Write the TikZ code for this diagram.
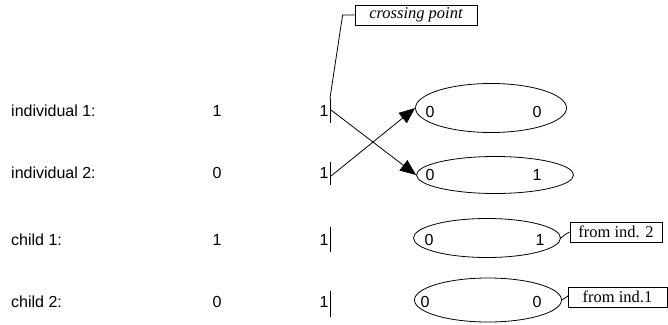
\documentclass[tikz,border=0pt]{standalone}
\usepackage{fontspec}
\setmainfont{Liberation Sans}
\newfontfamily\tms{Liberation Serif}
\usetikzlibrary{shapes.geometric,arrows.meta}
\begin{document}
\begin{tikzpicture}[x=1pt,y=-1pt,
  lbl/.style={anchor=west,inner sep=0,font=\fontsize{16}{18}\selectfont},
  dig/.style={inner sep=0,font=\fontsize{16}{18}\selectfont},
  oval/.style={draw,ellipse,inner sep=0,line width=0.8pt},
  note/.style={draw,inner sep=0,line width=0.8pt,font=\tms\fontsize{16.5}{18}\selectfont},
  bar/.style={line width=1pt},
  conn/.style={line width=0.8pt},
  arr/.style={conn,-{Triangle[length=16pt,width=13pt]}}]
\useasboundingbox (0,0) rectangle (668,324);
% row labels
\node[lbl] (l1) at (11,111) {individual 1:};
\node[lbl] (l2) at (11,173) {individual 2:};
\node[lbl] (l3) at (11,240) {child 1:};
\node[lbl] (l4) at (11,302) {child 2:};
% first column
\node[dig] (a1) at (217,111) {1};
\node[dig] (a2) at (217,173) {0};
\node[dig] (a3) at (217,240) {1};
\node[dig] (a4) at (217,302) {0};
% second column
\node[dig] (b1) at (324,111) {1};
\node[dig] (b2) at (324,173) {1};
\node[dig] (b3) at (324,240) {1};
\node[dig] (b4) at (324,302) {1};
% bars
\coordinate (t1) at (330,98);  \coordinate (u1) at (330,123);
\coordinate (t2) at (330,162); \coordinate (u2) at (330,185);
\coordinate (t3) at (330,227); \coordinate (u3) at (330,252);
\coordinate (t4) at (330,291); \coordinate (u4) at (330,317);
\draw[bar] (t1) -- (u1);
\draw[bar] (t2) -- (u2);
\draw[bar] (t3) -- (u3);
\draw[bar] (t4) -- (u4);
\coordinate (s1) at (331,110);
\coordinate (s2) at (331,176);
% ellipses
\node[oval,minimum width=151,minimum height=49] (e1) at (491,108) {};
\node[oval,minimum width=157,minimum height=37] (e2) at (495,175) {};
\node[oval,minimum width=147,minimum height=39] (e3) at (487,238) {};
\node[oval,minimum width=147,minimum height=44] (e4) at (488,300) {};
\node[dig] at (430,112) {0}; \node[dig] at (537,112) {0};
\node[dig] at (430,175) {0}; \node[dig] at (537,175) {1};
\node[dig] at (429,240) {0}; \node[dig] at (540,240) {1};
\node[dig] at (425,302) {0}; \node[dig] at (537,302) {0};
% arrows
\draw[arr] (s1) -- (e2.west);
\draw[arr] (s2) -- (e1.west);
% notes
\node[note,minimum width=122,minimum height=20] (cp) at (416,15) {\itshape crossing point};
\draw[conn] (cp.west) -- ++(-12,0) -- (t1);
\node[note,minimum width=92,minimum height=20] (n1) at (616,232) {from ind. 2};
\node[note,minimum width=99,minimum height=20] (n2) at (617.5,297) {from ind.1};
\draw[conn] (e3.east) -- ++(5,-4) -- (n1.west);
\draw[conn] (e4.east) -- ++(6,-4) -- (n2.west);
\end{tikzpicture}
\end{document}
